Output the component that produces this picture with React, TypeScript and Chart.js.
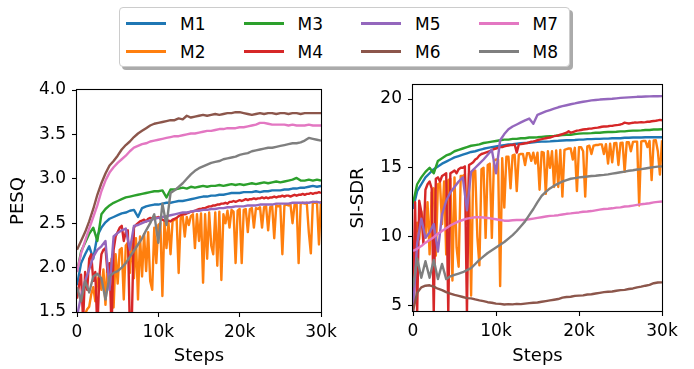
import React, { useEffect, useRef } from "react";
import { Chart, registerables } from "chart.js";

Chart.register(...registerables);

const seriesNames = ["M1", "M2", "M3", "M4", "M5", "M6", "M7", "M8"];
const seriesColors = ["#1f77b4", "#ff7f0e", "#2ca02c", "#d62728", "#9467bd", "#8c564b", "#e377c2", "#7f7f7f"];

// evaluation steps (every 500 and every 250 steps)
const stepsHalf: number[] = Array.from({ length: 61 }, (_, i) => i * 500);
const stepsQuarter: number[] = Array.from({ length: 121 }, (_, i) => i * 250);

const stepTicks = [0, 10000, 20000, 30000];
const pesqTicks = [1.5, 2.0, 2.5, 3.0, 3.5, 4.0];
const sdrTicks = [5, 10, 15, 20];

// ---------------- PESQ ----------------
const pesqM1 = [
  1.80, 2.05, 2.15, 2.24, 2.10, 2.36, 2.45, 2.51, 2.55, 2.57,
  2.59, 2.61, 2.62, 2.64, 2.65, 2.57, 2.67, 2.69, 2.70, 2.71,
  2.71, 2.72, 2.73, 2.73, 2.74, 2.75, 2.75, 2.76, 2.77, 2.78,
  2.79, 2.80, 2.80, 2.81, 2.81, 2.82, 2.82, 2.83, 2.84, 2.84,
  2.84, 2.85, 2.85, 2.85, 2.86, 2.85, 2.86, 2.86, 2.87, 2.87,
  2.87, 2.88, 2.88, 2.89, 2.89, 2.90, 2.90, 2.91, 2.92, 2.91,
  2.92,
];
const pesqM2 = [
  1.20, 1.28, 1.35, 1.42,
  1.48, 1.53, 1.56, 1.70,
  1.78, 1.62, 1.85, 1.92,
  1.75, 1.98, 1.58, 2.05,
  1.85, 2.10, 1.55, 2.15,
  1.82, 2.20, 2.22, 1.64,
  2.25, 2.28, 1.94, 2.30,
  1.88, 2.33, 1.64, 2.35,
  1.90, 2.38, 1.96, 2.40,
  1.85, 1.75, 2.45, 2.05,
  2.48, 2.50, 1.68, 2.52,
  2.22, 2.50, 2.15, 2.52,
  2.54, 2.55, 1.94, 2.56,
  2.58, 2.35, 2.57, 2.48,
  2.58, 2.60, 2.22, 2.60,
  2.30, 2.61, 1.83, 2.60,
  2.10, 2.62, 2.25, 2.15,
  2.62, 2.02, 2.63, 1.86,
  2.60, 2.50, 2.64, 2.45,
  2.65, 2.63, 2.05, 2.64,
  2.66, 2.05, 2.65, 2.66,
  2.40, 2.66, 2.67, 2.45,
  2.67, 2.66, 2.68, 2.45,
  2.68, 2.69, 2.42, 2.68,
  2.69, 2.33, 2.70, 2.69,
  2.70, 2.15, 2.70, 2.71,
  2.70, 2.71, 2.50, 2.71,
  2.72, 2.05, 2.72, 2.73,
  2.72, 2.73, 2.40, 2.16,
  2.74, 2.73, 2.74, 2.26,
  2.75,
];
const pesqM3 = [
  1.95, 2.18, 2.28, 2.38, 2.45, 2.30, 2.60, 2.66, 2.70, 2.73,
  2.75, 2.77, 2.79, 2.80, 2.81, 2.82, 2.83, 2.84, 2.85, 2.86,
  2.86, 2.87, 2.79, 2.88, 2.88, 2.89, 2.90, 2.89, 2.91, 2.90,
  2.91, 2.92, 2.91, 2.92, 2.92, 2.93, 2.92, 2.93, 2.94, 2.93,
  2.94, 2.93, 2.94, 2.95, 2.94, 2.95, 2.96, 2.95, 2.96, 2.97,
  2.96, 2.97, 2.98, 2.99, 3.01, 2.98, 2.98, 2.99, 2.98, 2.99,
  2.98,
];
const pesqM4 = [
  1.65, 1.80, 1.92, 1.40,
  1.95, 1.75, 2.10, 2.15,
  1.85, 1.95, 1.30, 1.90,
  2.15, 2.20, 2.22, 1.95,
  2.05, 1.30, 2.20, 2.35,
  2.40, 2.45, 2.47, 2.30,
  2.40, 2.42, 1.30, 1.45,
  2.45, 2.48, 2.50, 2.52,
  2.53, 2.54, 2.52, 2.55,
  2.56, 2.55, 2.57, 2.56,
  2.57, 2.55, 2.54, 2.53,
  2.52, 2.53, 2.52, 2.54,
  2.55, 2.56, 2.58, 2.59,
  2.60, 2.60, 2.61, 2.62,
  2.63, 2.63, 2.64, 2.65,
  2.66, 2.66, 2.67, 2.67,
  2.68, 2.69, 2.69, 2.70,
  2.70, 2.71, 2.71, 2.72,
  2.72, 2.73, 2.72, 2.74,
  2.74, 2.75, 2.74, 2.75,
  2.76, 2.75, 2.76, 2.77,
  2.76, 2.77, 2.77, 2.78,
  2.77, 2.78, 2.78, 2.79,
  2.78, 2.79, 2.78, 2.79,
  2.79, 2.80, 2.79, 2.80,
  2.80, 2.81, 2.80, 2.81,
  2.81, 2.80, 2.81, 2.82,
  2.81, 2.82, 2.82, 2.83,
  2.82, 2.83, 2.83, 2.84,
  2.83, 2.84, 2.84, 2.85,
  2.84,
];
const pesqM5 = [
  1.45, 1.68, 1.85, 1.98, 2.12, 2.20, 2.24, 2.30, 1.75, 2.35,
  2.39, 2.42, 2.44, 2.20, 2.47, 2.48, 2.50, 2.52, 2.53, 2.55,
  2.56, 2.57, 2.58, 2.59, 2.60, 2.61, 2.62, 2.62, 2.63, 2.64,
  2.64, 2.65, 2.65, 2.66, 2.66, 2.67, 2.67, 2.68, 2.68, 2.69,
  2.69, 2.69, 2.70, 2.70, 2.70, 2.71, 2.71, 2.71, 2.71, 2.72,
  2.72, 2.72, 2.72, 2.73, 2.73, 2.73, 2.73, 2.73, 2.74, 2.74,
  2.73,
];
const pesqM6 = [
  2.20, 2.30, 2.40, 2.52, 2.66, 2.82, 2.95, 3.06, 3.15, 3.20,
  3.26, 3.33, 3.38, 3.42, 3.47, 3.51, 3.54, 3.57, 3.60, 3.62,
  3.63, 3.64, 3.65, 3.66, 3.66, 3.68, 3.67, 3.71, 3.69, 3.70,
  3.71, 3.72, 3.71, 3.72, 3.73, 3.72, 3.73, 3.74, 3.74, 3.75,
  3.75, 3.74, 3.73, 3.72, 3.73, 3.74, 3.73, 3.74, 3.74, 3.73,
  3.74, 3.74, 3.73, 3.74, 3.74, 3.73, 3.74, 3.74, 3.74, 3.74,
  3.74,
];
const pesqM7 = [
  1.95, 2.16, 2.30, 2.44, 2.57, 2.70, 2.86, 2.98, 3.07, 3.13,
  3.18, 3.22, 3.26, 3.31, 3.35, 3.37, 3.39, 3.40, 3.42, 3.43,
  3.44, 3.45, 3.46, 3.47, 3.48, 3.48, 3.49, 3.50, 3.51, 3.51,
  3.52, 3.53, 3.54, 3.54, 3.55, 3.56, 3.56, 3.57, 3.57, 3.57,
  3.58, 3.58, 3.59, 3.60, 3.61, 3.63, 3.63, 3.62, 3.61, 3.61,
  3.61, 3.61, 3.60, 3.61, 3.60, 3.60, 3.60, 3.61, 3.60, 3.60,
  3.60,
];
const pesqM8 = [
  1.78, 1.62, 1.85, 1.72, 1.90, 1.93, 1.88, 1.64, 1.90, 1.94,
  1.96, 2.00, 2.05, 2.12, 2.19, 2.26, 2.33, 2.42, 2.50, 2.60,
  2.28, 2.72, 2.48, 2.84, 2.87, 2.91, 2.95, 3.00, 3.05, 3.09,
  3.12, 3.14, 3.16, 3.18, 3.19, 3.20, 3.22, 3.23, 3.24, 3.25,
  3.27, 3.28, 3.29, 3.31, 3.32, 3.33, 3.34, 3.35, 3.35, 3.36,
  3.37, 3.38, 3.39, 3.40, 3.40, 3.41, 3.43, 3.46, 3.45, 3.44,
  3.43,
];

// ---------------- SI-SDR ----------------
const sdrM1 = [
  12.0, 13.3, 13.8, 14.3, 14.6, 14.9, 15.1, 15.3, 15.45, 15.6,
  15.75, 15.85, 15.95, 16.05, 16.15, 16.2, 16.3, 16.38, 16.45, 16.5,
  16.55, 16.6, 16.65, 16.7, 16.72, 16.75, 16.78, 16.8, 16.82, 16.85,
  16.88, 16.9, 16.9, 16.92, 16.95, 16.96, 16.98, 17.0, 17.0, 17.02,
  17.05, 17.05, 17.08, 17.08, 17.1, 17.1, 17.12, 17.12, 17.15, 17.15,
  17.15, 17.18, 17.18, 17.2, 17.2, 17.2, 17.22, 17.22, 17.22, 17.22,
  17.22,
];
const sdrM2 = [
  9.0, 10.0, 11.0, 9.8,
  11.8, 11.0, 9.9, 12.5,
  8.7, 13.2, 13.5, 8.6,
  13.8, 13.9, 10.9, 14.0,
  8.7, 14.1, 14.2, 6.8,
  14.3, 9.2, 7.8, 14.4,
  14.4, 14.5, 10.9, 14.6,
  5.7, 14.7, 14.8, 10.0,
  7.9, 14.9, 15.0, 9.9,
  15.2, 15.3, 9.9, 15.5,
  15.6, 15.6, 6.4, 15.7,
  12.1, 15.8, 15.8, 13.5,
  15.9, 15.95, 13.3, 15.95,
  16.0, 16.0, 15.2, 16.05,
  16.05, 15.5, 16.1, 15.3,
  16.1, 13.4, 16.15, 16.1,
  13.1, 16.2, 15.0, 16.2,
  13.6, 16.25, 13.6, 16.3,
  12.9, 16.3, 16.35, 16.4,
  16.4, 15.6, 16.45, 13.3,
  16.5, 16.5, 16.2, 12.9,
  16.55, 16.6, 16.0, 16.6,
  16.65, 16.65, 16.7, 16.7,
  16.0, 16.72, 15.3, 16.75,
  15.4, 16.78, 16.8, 15.2,
  16.8, 16.82, 14.7, 16.85,
  16.85, 16.2, 16.88, 16.9,
  16.9, 12.25, 16.92, 16.95,
  16.95, 16.5, 16.95, 14.1,
  16.98, 17.0, 16.2, 14.5,
  17.0,
];
const sdrM3 = [
  12.4, 13.8, 14.3, 14.7, 15.0, 14.6, 15.5, 15.7, 15.9, 16.0,
  16.2, 16.3, 16.4, 16.5, 16.6, 16.65, 16.7, 16.8, 16.85, 16.9,
  16.95, 17.0, 17.05, 17.05, 17.1, 17.1, 17.15, 17.15, 17.2, 17.2,
  17.22, 17.25, 17.28, 17.3, 17.32, 17.35, 17.38, 17.4, 17.4, 17.45,
  17.48, 17.5, 17.5, 17.52, 17.55, 17.55, 17.58, 17.6, 17.6, 17.62,
  17.65, 17.65, 17.68, 17.7, 17.7, 17.72, 17.75, 17.75, 17.78, 17.78,
  17.8,
];
const sdrM4 = [
  4.4, 12.5, 4.4, 12.6,
  11.8, 9.5, 13.4, 13.8,
  14.0, 13.5, 4.4, 14.2,
  14.3, 14.0, 14.4, 14.5,
  14.6, 4.4, 14.6, 14.7,
  14.8, 14.6, 14.9, 15.0,
  15.0, 15.1, 4.4, 15.2,
  15.3, 15.4, 15.6, 15.7,
  15.9, 16.0, 16.05, 16.1,
  16.15, 16.2, 16.3, 16.35,
  16.4, 16.45, 16.5, 16.5,
  16.55, 16.6, 16.62, 16.65,
  16.65, 16.7, 16.1, 16.7,
  16.72, 16.75, 16.78, 16.8,
  16.85, 16.9, 16.92, 16.95,
  17.0, 17.05, 17.08, 17.12,
  17.15, 17.18, 17.2, 17.25,
  17.3, 17.32, 17.35, 17.4,
  17.45, 17.5, 17.55, 17.65,
  17.55, 17.6, 17.65, 17.7,
  17.72, 17.75, 17.78, 17.8,
  17.82, 17.85, 17.85, 17.88,
  17.9, 17.92, 17.95, 17.98,
  18.0, 18.0, 18.02, 18.05,
  18.05, 18.08, 18.1, 18.12,
  18.15, 18.2, 18.28, 18.25,
  18.22, 18.25, 18.27, 18.3,
  18.28, 18.3, 18.32, 18.3,
  18.32, 18.35, 18.35, 18.38,
  18.4, 18.42, 18.45, 18.48,
  18.46,
];
const sdrM5 = [
  4.5, 9.5, 11.3, 9.9, 10.3, 10.9, 8.9, 11.6, 12.6, 13.2,
  13.6, 14.0, 14.3, 11.9, 14.7, 15.0, 15.3, 15.6, 15.95, 16.3,
  14.6, 17.0, 17.45, 17.8, 18.0, 18.15, 18.3, 18.45, 18.58, 18.2,
  18.85, 18.98, 19.1, 19.2, 19.3, 19.4, 19.48, 19.55, 19.62, 19.68,
  19.75, 19.8, 19.85, 19.9, 19.93, 19.96, 19.98, 20.0, 20.02, 20.05,
  20.08, 20.1, 20.12, 20.14, 20.16, 20.17, 20.18, 20.19, 20.2, 20.2,
  20.21,
];
const sdrM6 = [
  4.6, 5.9, 6.3, 6.42, 6.45, 6.35, 6.2, 6.1, 5.95, 5.85,
  5.75, 5.68, 5.6, 5.52, 5.5, 5.42, 5.35, 5.3, 5.22, 5.18,
  5.12, 5.1, 5.05, 5.08, 5.06, 5.1, 5.08, 5.12, 5.15, 5.18,
  5.2, 5.25, 5.3, 5.35, 5.4, 5.45, 5.55, 5.6, 5.62, 5.68,
  5.7, 5.72, 5.78, 5.8, 5.85, 5.9, 5.95, 5.98, 6.0, 6.05,
  6.1, 6.12, 6.18, 6.22, 6.3, 6.35, 6.42, 6.48, 6.6, 6.65,
  6.66,
];
const sdrM7 = [
  8.95, 9.1, 9.3, 9.55, 9.75, 9.95, 10.2, 10.4, 10.6, 10.8,
  10.95, 11.1, 11.2, 11.3, 11.35, 11.4, 11.4, 11.38, 11.35, 11.3,
  11.25, 11.2, 11.15, 11.15, 11.18, 11.2, 11.2, 11.22, 11.25, 11.3,
  11.35, 11.4, 11.45, 11.5, 11.52, 11.55, 11.6, 11.65, 11.68, 11.72,
  11.75, 11.8, 11.82, 11.85, 11.9, 11.95, 12.0, 12.02, 12.05, 12.1,
  12.12, 12.18, 12.2, 12.25, 12.3, 12.35, 12.38, 12.42, 12.48, 12.52,
  12.55,
];
const sdrM8 = [
  6.3, 8.4, 7.0, 8.2, 7.0, 8.3, 6.9, 8.0, 6.9, 7.1,
  7.2, 7.3, 7.4, 7.55, 7.7, 8.0, 8.3, 8.55, 8.8, 9.0,
  9.2, 9.4, 9.6, 9.85, 10.1, 10.4, 10.75, 11.1, 11.55, 12.0,
  12.5, 12.95, 13.25, 13.5, 13.7, 13.85, 14.0, 14.1, 14.2, 14.25,
  14.3, 14.33, 14.36, 14.4, 14.42, 14.45, 14.48, 14.52, 14.57, 14.62,
  14.67, 14.72, 14.78, 14.82, 14.87, 14.9, 14.95, 15.0, 15.05, 15.08,
  15.1,
];

const pesqSeries = [pesqM1, pesqM2, pesqM3, pesqM4, pesqM5, pesqM6, pesqM7, pesqM8];
const sdrSeries = [sdrM1, sdrM2, sdrM3, sdrM4, sdrM5, sdrM6, sdrM7, sdrM8];

const FONT = "'DejaVu Sans', sans-serif";

const framePlugin = {
  id: "frame",
  afterDatasetsDraw(chart: any) {
    const { ctx, chartArea } = chart;
    const l = Math.round(chartArea.left) - 0.5;
    const t = Math.round(chartArea.top) - 0.5;
    const r = Math.round(chartArea.right) + 0.5;
    const b = Math.round(chartArea.bottom) + 0.5;
    ctx.save();
    ctx.strokeStyle = "#000";
    ctx.lineWidth = 1.1;
    ctx.strokeRect(l, t, r - l, b - t);
    ctx.restore();
  },
};

function buildDatasets(series: number[][]) {
  return series.map((vals, i) => {
    const xs = vals.length === 121 ? stepsQuarter : stepsHalf;
    return {
      label: seriesNames[i],
      data: vals.map((v, j) => ({ x: xs[j], y: v })),
      borderColor: seriesColors[i],
      backgroundColor: seriesColors[i],
      borderWidth: 2.4,
      pointRadius: 0,
      tension: 0,
      fill: false,
      clip: 0,
      order: 7 - i,
      borderJoinStyle: "round",
    };
  });
}

function makeChart(canvas: HTMLCanvasElement, cfg: any) {
  return new Chart(canvas, {
    type: "line",
    data: { datasets: buildDatasets(cfg.series) as any },
    options: {
      animation: false,
      responsive: false,
      devicePixelRatio: 1,
      events: [],
      layout: { autoPadding: false, padding: { top: cfg.padTop, right: cfg.padRight, left: 0, bottom: 0 } },
      plugins: { legend: { display: false }, tooltip: { enabled: false } },
      scales: {
        x: {
          type: "linear",
          min: 0,
          max: 30000,
          afterBuildTicks: (scale: any) => {
            scale.ticks = stepTicks.map((v) => ({ value: v }));
          },
          afterFit: (scale: any) => {
            scale.height = cfg.xAxisHeight;
            scale.paddingLeft = 0;
            scale.paddingRight = 0;
          },
          grid: { drawOnChartArea: false, drawTicks: true, tickLength: 5, tickColor: "#000", tickWidth: 1.1 },
          border: { display: false },
          ticks: {
            autoSkip: false,
            maxRotation: 0,
            padding: 5,
            color: "#000",
            font: { family: FONT, size: 17 },
            callback: (v: any) => (Number(v) === 0 ? "0" : `${Number(v) / 1000}k`),
          },
          title: {
            display: true,
            text: "Steps",
            color: "#000",
            font: { family: FONT, size: 18 },
            padding: { top: 0, bottom: 1.5 },
          },
        },
        y: {
          type: "linear",
          min: cfg.yMin,
          max: cfg.yMax,
          afterBuildTicks: (scale: any) => {
            scale.ticks = cfg.yTicks.map((v: number) => ({ value: v }));
          },
          afterFit: (scale: any) => {
            scale.width = cfg.yAxisWidth;
            scale.paddingTop = 0;
            scale.paddingBottom = 0;
          },
          grid: { drawOnChartArea: false, drawTicks: true, tickLength: 5, tickColor: "#000", tickWidth: 1.1 },
          border: { display: false },
          ticks: {
            padding: 6,
            color: "#000",
            font: { family: FONT, size: 17 },
            callback: (v: any) => cfg.yFmt(Number(v)),
          },
          title: {
            display: true,
            text: cfg.yLabel,
            color: "#000",
            font: { family: FONT, size: 18 },
            padding: { top: 7.5, bottom: 0 },
          },
        },
      },
    } as any,
    plugins: [framePlugin],
  });
}

const legendCols = [
  [0, 1],
  [2, 3],
  [4, 5],
  [6, 7],
];

function LegendBox() {
  const items: any[] = [];
  legendCols.forEach((col, ci) => {
    col.forEach((si, ri) => {
      items.push(
        <div
          key={"l" + si}
          style={{
            position: "absolute",
            left: 6 + ci * 117.5,
            top: 14 + ri * 28,
            width: 40,
            height: 3,
            background: seriesColors[si],
          }}
        />
      );
      items.push(
        <div
          key={"t" + si}
          style={{
            position: "absolute",
            left: 60 + ci * 117.5,
            top: 15.5 + ri * 28,
            transform: "translateY(-50%)",
            lineHeight: "20px",
            whiteSpace: "nowrap",
          }}
        >
          {seriesNames[si]}
        </div>
      );
    });
  });
  return (
    <div
      style={{
        position: "absolute",
        left: 119,
        top: 7,
        width: 451,
        height: 60,
        boxSizing: "border-box",
        border: "1px solid #cccccc",
        borderRadius: 4,
        background: "#fff",
        boxShadow: "3px 3px 0 rgba(0,0,0,0.33)",
        fontFamily: FONT,
        fontSize: 17,
        color: "#000",
      }}
    >
      {items}
    </div>
  );
}

export default function App() {
  const leftRef = useRef<HTMLCanvasElement>(null);
  const rightRef = useRef<HTMLCanvasElement>(null);

  useEffect(() => {
    const c1 = makeChart(leftRef.current as HTMLCanvasElement, {
      series: pesqSeries,
      yTicks: pesqTicks,
      yMin: 1.5,
      yMax: 4.0,
      yLabel: "PESQ",
      yFmt: (v: number) => v.toFixed(1),
      yAxisWidth: 77,
      xAxisHeight: 57,
      padTop: 10,
      padRight: 19,
    });
    const c2 = makeChart(rightRef.current as HTMLCanvasElement, {
      series: sdrSeries,
      yTicks: sdrTicks,
      yMin: 4.58,
      yMax: 21.02,
      yLabel: "SI-SDR",
      yFmt: (v: number) => String(v),
      yAxisWidth: 73,
      xAxisHeight: 58,
      padTop: 10,
      padRight: 32,
    });
    return () => {
      c1.destroy();
      c2.destroy();
    };
  }, []);

  return (
    <div style={{ position: "fixed", left: 0, top: 0, width: 694, height: 369, background: "#fff", overflow: "hidden" }}>
      <canvas ref={leftRef} width={340} height={289} style={{ position: "absolute", left: 0, top: 80, width: 340, height: 289 }} />
      <canvas ref={rightRef} width={354} height={294} style={{ position: "absolute", left: 340, top: 75, width: 354, height: 294 }} />
      <LegendBox />
    </div>
  );
}
